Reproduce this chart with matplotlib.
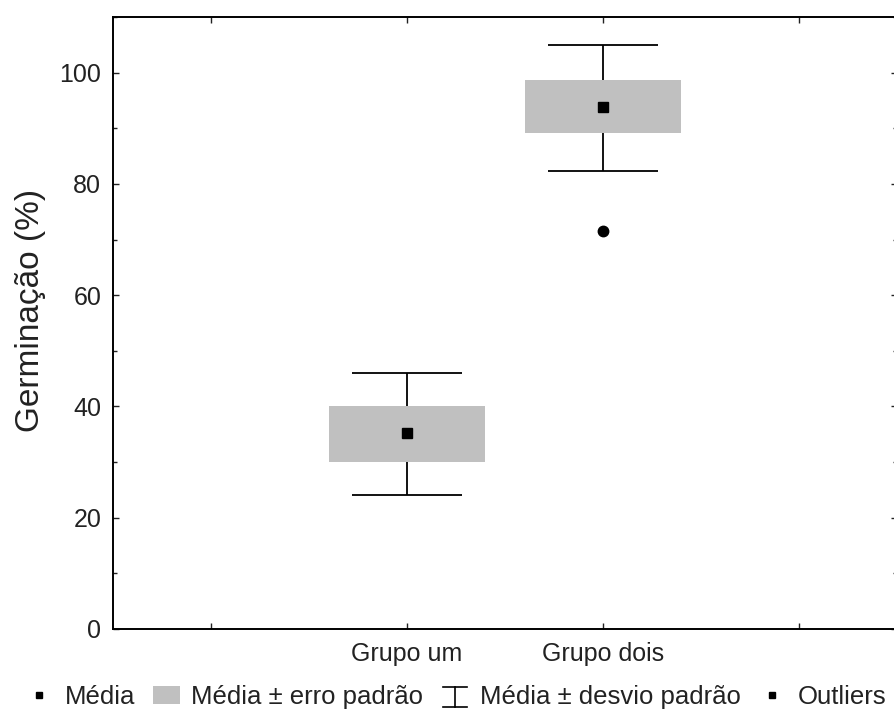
import matplotlib.pyplot as plt
from matplotlib.legend_handler import HandlerBase
from matplotlib.lines import Line2D
from matplotlib.patches import Patch
from matplotlib.ticker import MultipleLocator

plt.rcParams['font.family'] = ['Liberation Sans', 'DejaVu Sans']

# dados
grupos = ['Grupo um', 'Grupo dois']
media = [35.2, 93.9]
erro_inf = [30.0, 89.1]
erro_sup = [40.0, 98.7]
desvio_inf = [24.0, 82.4]
desvio_sup = [46.0, 105.0]
outlier_grupo = [1]
outlier_valor = [71.5]

pos = [1, 2]
cinza = '#c0c0c0'


class HandlerDesvio(HandlerBase):
    # simbolo de barra com duas tampas para o desvio padrao
    def create_artists(self, legend, orig_handle, xdescent, ydescent,
                       width, height, fontsize, trans):
        cx = width / 2 - xdescent
        y0 = -ydescent - 0.15 * height
        y1 = -ydescent + height * 0.95
        a = 0.45 * width
        arts = [
            Line2D([cx - a, cx + a], [y1, y1], color='black', lw=1.2),
            Line2D([cx - a, cx + a], [y0, y0], color='black', lw=1.2),
            Line2D([cx, cx], [y0, y1], color='black', lw=1.2),
        ]
        for art in arts:
            art.set_transform(trans)
        return arts


fig = plt.figure(figsize=(8.94, 7.13), dpi=100)
ax = fig.add_axes([113 / 894, 1 - 629 / 713, 784 / 894, 612 / 713])

for i, x in enumerate(pos):
    ax.vlines(x, desvio_inf[i], desvio_sup[i], color='black', lw=1.3, zorder=1)
    ax.hlines([desvio_inf[i], desvio_sup[i]], x - 0.28, x + 0.28,
              color='black', lw=1.3, zorder=1)
    ax.bar(x, erro_sup[i] - erro_inf[i], bottom=erro_inf[i], width=0.8,
           color=cinza, edgecolor='none', zorder=2)
ax.plot(pos, media, 's', color='black', markersize=7, zorder=3)
ax.plot([pos[g] for g in outlier_grupo], outlier_valor, 'o', color='black',
        markersize=7.5, zorder=3)

ax.set_xlim(-0.5, 3.5)
ax.set_ylim(0, 110)
ax.set_xticks([0, 1, 2, 3])
ax.set_xticklabels([''] + grupos + [''])
ax.yaxis.set_major_locator(MultipleLocator(20))
ax.yaxis.set_minor_locator(MultipleLocator(10))
ax.tick_params(which='both', direction='in', top=True, right=True,
               labelsize=18, colors='#222222')
ax.tick_params(which='major', length=4, width=1)
ax.tick_params(which='minor', length=3, width=1)
ax.tick_params(axis='y', pad=8.5)
ax.tick_params(axis='x', pad=9)
for sp in ax.spines.values():
    sp.set_linewidth(1.4)

ax.set_ylabel('Germinação (%)', fontsize=24, color='#222222')
ax.yaxis.set_label_coords(-0.085, 0.52)

handles = [
    Line2D([], [], marker='s', color='black', linestyle='none', markersize=4),
    Patch(facecolor=cinza, edgecolor='none'),
    Line2D([], []),
    Line2D([], [], marker='s', color='black', linestyle='none', markersize=4),
]
labels = ['Média', 'Média ± erro padrão', 'Média ± desvio padrão', 'Outliers']
fig.legend(handles, labels, loc='center left',
           bbox_to_anchor=(26 / 894, 1 - 697 / 713), ncol=4, frameon=False,
           fontsize=18.5, handlelength=1.05, handleheight=0.7,
           handletextpad=0.45, columnspacing=0.7, borderpad=0,
           borderaxespad=0, labelcolor='#222222',
           handler_map={handles[2]: HandlerDesvio()})

fig.savefig('out.png', dpi=100)
